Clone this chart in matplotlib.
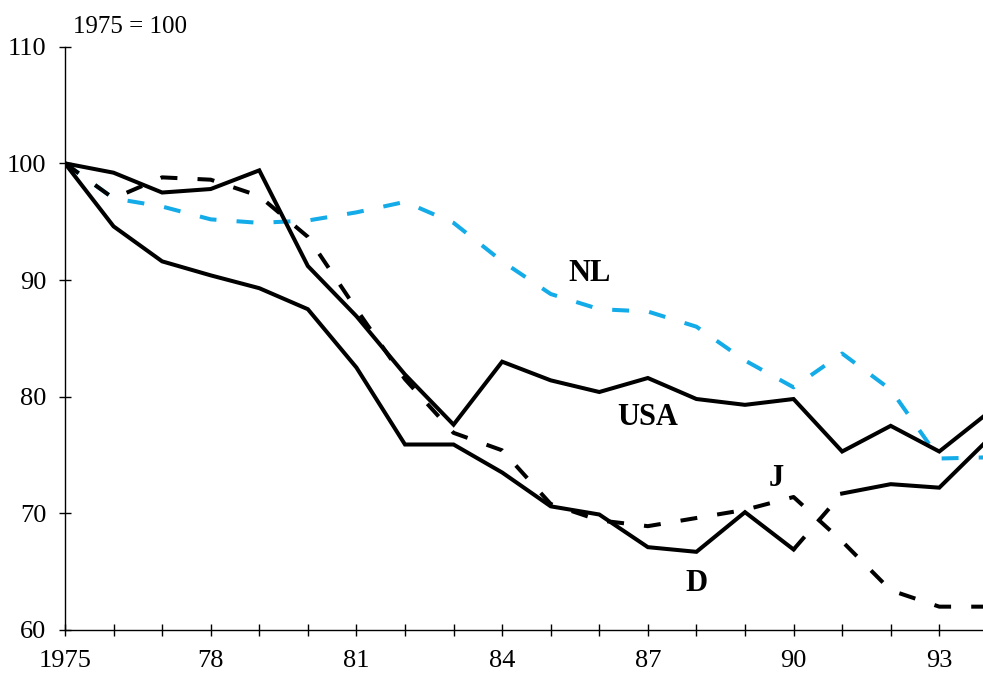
import numpy as np
import matplotlib.pyplot as plt

plt.rcParams['font.family'] = ['Liberation Serif', 'DejaVu Serif']

years = np.arange(1975, 1995)
usa = [100, 99.2, 97.5, 97.8, 99.4, 91.2, 86.9, 81.9, 77.6, 83.0,
       81.4, 80.4, 81.6, 79.8, 79.3, 79.8, 75.3, 77.5, 75.3, 78.6]
d = [100, 94.6, 91.6, 90.4, 89.3, 87.5, 82.5, 75.9, 75.9, 73.5,
     70.6, 69.9, 67.1, 66.7, 70.1, 66.9, 71.7, 72.5, 72.2, 76.3]
j = [100, 97.0, 98.8, 98.6, 97.2, 93.7, 87.5, 81.5, 76.9, 75.4,
     70.8, 69.4, 68.9, 69.6, 70.3, 71.4, 67.6, 63.4, 62.0, 62.0]
nl = [100, 97.0, 96.3, 95.2, 94.9, 95.1, 95.8, 96.7, 94.9, 91.6,
      88.8, 87.5, 87.3, 86.0, 83.1, 80.8, 83.7, 80.6, 74.7, 74.8]
d_break = 1990  # German series break, drawn dashed

xtick_labels = ['1975', '78', '81', '84', '87', '90', '93']

fig = plt.figure(figsize=(9.83, 6.74), dpi=100)
ax = fig.add_axes([0.0661, 0.0653, 0.9339, 0.8654])

lw = 2.9
dash = (4.2, 5.0)
ax.plot(years, nl, color='#13ABE8', lw=lw, dashes=dash)
ax.plot(years, j, color='black', lw=lw, dashes=dash)
ax.plot(years, usa, color='black', lw=lw, solid_joinstyle='miter')
i = list(years).index(d_break)
ax.plot(years[:i + 1], d[:i + 1], color='black', lw=lw, solid_joinstyle='miter')
ax.plot(years[i:i + 2], d[i:i + 2], color='black', lw=lw, dashes=dash)
ax.plot(years[i + 1:], d[i + 1:], color='black', lw=lw, solid_joinstyle='miter')

ax.set_xlim(1975, 1993.9)
ax.set_ylim(60, 110)
ax.set_xticks(years[:19])
ax.set_xticklabels([xtick_labels[(y - 1975) // 3] if (y - 1975) % 3 == 0 else ''
                    for y in years[:19]])
ax.set_yticks([60, 70, 80, 90, 100, 110])

for s in ['top', 'right']:
    ax.spines[s].set_visible(False)
for s in ['left', 'bottom']:
    ax.spines[s].set_linewidth(1.0)
ax.tick_params(direction='inout', length=9, width=1.0, labelsize=19)
ax.tick_params(axis='x', pad=10)
ax.tick_params(axis='y', pad=9)

ax.text(1985.8, 90.6, 'NL', fontsize=22, fontweight='bold', ha='center', va='center')
ax.text(1987.0, 78.2, 'USA', fontsize=22, fontweight='bold', ha='center', va='center')
ax.text(1989.65, 73.0, 'J', fontsize=22, fontweight='bold', ha='center', va='center')
ax.text(1988.0, 64.0, 'D', fontsize=22, fontweight='bold', ha='center', va='center')

fig.text(73 / 983, 1 - 33 / 674, '1975 = 100', fontsize=18, ha='left', va='baseline')

fig.savefig('out.png', dpi=100)
